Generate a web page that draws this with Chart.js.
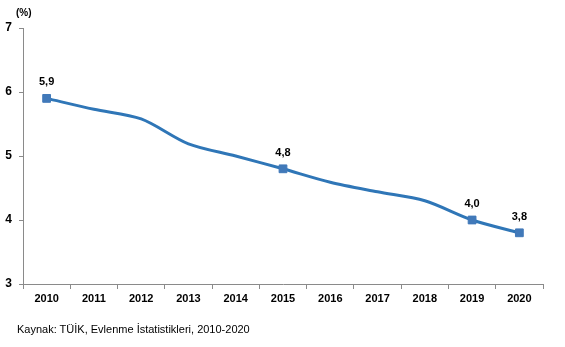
<!DOCTYPE html>
<html>
<head>
<meta charset="utf-8">
<script src="https://cdn.jsdelivr.net/npm/chart.js@4/dist/chart.umd.min.js"></script>
<style>
  html, body { margin: 0; padding: 0; background: #fff; }
  #wrap { position: relative; width: 565px; height: 347px; }
  #c { position: absolute; left: 0; top: 0; }
  .unit { position: absolute; left: 16px; top: 7px; font: bold 10px "Liberation Sans", Arial, sans-serif; color: #000; }
  .source { position: absolute; left: 17px; top: 323px; font: 11px "Liberation Sans", Arial, sans-serif; color: #000; }
</style>
</head>
<body>
<div id="wrap">
  <canvas id="c" width="565" height="347"></canvas>
  <div class="unit">(%)</div>
  <div class="source">Kaynak: TÜİK, Evlenme İstatistikleri, 2010-2020</div>
</div>
<script>
// Years on the category axis
const years = ['2010', '2011', '2012', '2013', '2014', '2015', '2016', '2017', '2018', '2019', '2020'];
// Rate per year (%)
const rates = [5.9, 5.73, 5.58, 5.19, 5.0, 4.8, 4.59, 4.44, 4.30, 4.0, 3.8];
// Years that carry a marker and a value label
const labeledYears = ['2010', '2015', '2019', '2020'];
// Value axis ticks
const yTicks = [3, 4, 5, 6, 7];

const FONT = '"Liberation Sans", Arial, sans-serif';
const LINE = '#2F76B7';
const MARK = '#4179B9';
const AXIS = '#8A8A8A';

const isLabeled = years.map(y => labeledYears.includes(y));

// Writes the value above each marked point, with a comma decimal separator
const valueLabels = {
  id: 'valueLabels',
  afterDatasetsDraw(chart) {
    const ctx = chart.ctx;
    const meta = chart.getDatasetMeta(0);
    ctx.save();
    ctx.font = 'bold 11px ' + FONT;
    ctx.fillStyle = '#000';
    ctx.textAlign = 'center';
    ctx.textBaseline = 'alphabetic';
    meta.data.forEach((pt, i) => {
      if (!isLabeled[i]) return;
      const txt = rates[i].toFixed(1).replace('.', ',');
      ctx.fillText(txt, pt.x, pt.y - 13);
    });
    ctx.restore();
  }
};

new Chart(document.getElementById('c'), {
  type: 'line',
  data: {
    labels: years,
    datasets: [{
      data: rates,
      borderColor: LINE,
      borderWidth: 3,
      tension: 0.3,
      pointStyle: 'rect',
      pointRadius: isLabeled.map(v => v ? 5.5 : 0),
      pointHoverRadius: isLabeled.map(v => v ? 5.5 : 0),
      pointBackgroundColor: MARK,
      pointBorderColor: MARK,
      pointBorderWidth: 1
    }]
  },
  options: {
    responsive: false,
    animation: false,
    events: [],
    layout: { padding: { top: 28, right: 22, left: 0, bottom: 0 } },
    plugins: { legend: { display: false }, tooltip: { enabled: false } },
    scales: {
      x: {
        type: 'category',
        offset: true,
        grid: { display: true, drawOnChartArea: false, drawTicks: true, tickLength: 5, color: AXIS, offset: true },
        border: { display: true, color: AXIS, width: 1 },
        ticks: { color: '#000', font: { family: FONT, size: 11, weight: 'bold' }, padding: 3, maxRotation: 0, autoSkip: false },
        afterFit(scale) { scale.height = 63; }
      },
      y: {
        min: yTicks[0],
        max: yTicks[yTicks.length - 1],
        afterBuildTicks(scale) { scale.ticks = yTicks.map(v => ({ value: v })); },
        grid: { display: true, drawOnChartArea: false, drawTicks: true, tickLength: 4, color: AXIS },
        border: { display: true, color: AXIS, width: 1 },
        ticks: { color: '#000', font: { family: FONT, size: 12, weight: 'bold' }, padding: 7 },
        afterFit(scale) { scale.width = 23; }
      }
    }
  },
  plugins: [valueLabels]
});
</script>
</body>
</html>
